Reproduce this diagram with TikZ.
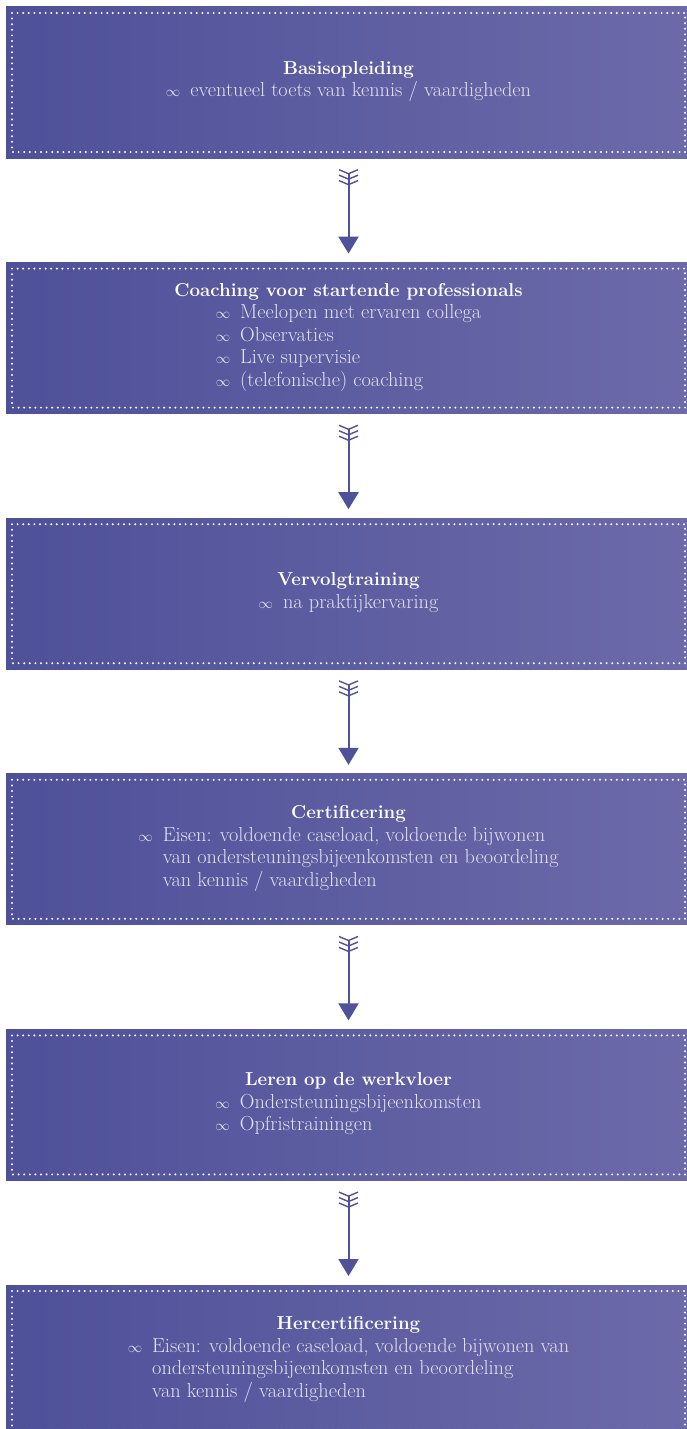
\documentclass[tikz,border=0pt]{standalone}
\usepackage{xcolor}
\usepackage{tikz}
\usetikzlibrary{positioning}
\usetikzlibrary{arrows.meta}

\definecolor{boxleft}{HTML}{4E5099}
\definecolor{boxright}{HTML}{6C6AA9}
\definecolor{flowblue}{HTML}{4F5199}
\definecolor{itemtext}{HTML}{E4E3F1}

\newcommand{\lemni}{{\fontsize{14}{14}\selectfont$\infty$}}
\newcommand{\stagetitle}[1]{{\fontsize{18.7}{22.5}\selectfont\bfseries\color{white}#1}}

\tikzset{
  vanes/.tip={Straight Barb[reversed,length=4pt,width=19pt,line width=1.4pt] Straight Barb[reversed,length=4pt,width=19pt,line width=1.4pt] Straight Barb[reversed,length=4pt,width=19pt,line width=1.4pt]},
  point/.tip={Triangle[length=17pt,width=20pt]},
  stage/.style={rectangle, minimum width=685pt, minimum height=151pt, inner sep=0pt, outer sep=0pt,
    left color=boxleft, right color=boxright, text=itemtext, align=center,
    font=\fontsize{20.3}{22.5}\selectfont,
    path picture={\draw[white, line width=2.2pt, line cap=round, dash pattern=on 0pt off 5.6pt]
      ([shift={(6pt,-6pt)}]path picture bounding box.north west) rectangle
      ([shift={(-6pt,6pt)}]path picture bounding box.south east);}},
  flow/.style={draw=flowblue, fill=flowblue, line width=2pt, shorten <=11pt, shorten >=9pt, vanes-point}
}

\begin{document}
\begin{tikzpicture}[x=1pt, y=-1pt, node distance=104.6pt]
\useasboundingbox (0,0) rectangle (687,1429);

\node (basis) [stage] at (348.5,82.5) {\stagetitle{Basisopleiding}\\
  \begin{tabular}[t]{@{}l@{\hspace{10pt}}l@{}}
  \lemni & eventueel toets van kennis / vaardigheden
  \end{tabular}};

\node (coaching) [stage, below=of basis] {\stagetitle{Coaching voor startende professionals}\\
  \begin{tabular}[t]{@{}l@{\hspace{10pt}}l@{}}
  \lemni & Meelopen met ervaren collega\\
  \lemni & Observaties\\
  \lemni & Live supervisie\\
  \lemni & (telefonische) coaching
  \end{tabular}};

\node (vervolg) [stage, below=of coaching] {\stagetitle{Vervolgtraining}\\
  \begin{tabular}[t]{@{}l@{\hspace{10pt}}l@{}}
  \lemni & na praktijkervaring
  \end{tabular}};

\node (cert) [stage, below=of vervolg] {\stagetitle{Certificering}\\
  \begin{tabular}[t]{@{}l@{\hspace{10pt}}l@{}}
  \lemni & Eisen: voldoende caseload, voldoende bijwonen\\
         & van ondersteuningsbijeenkomsten en beoordeling\\
         & van kennis / vaardigheden
  \end{tabular}};

\node (werkvloer) [stage, below=of cert] {\stagetitle{Leren op de werkvloer}\\
  \begin{tabular}[t]{@{}l@{\hspace{10pt}}l@{}}
  \lemni & Ondersteuningsbijeenkomsten\\
  \lemni & Opfristrainingen
  \end{tabular}};

\node (hercert) [stage, below=of werkvloer] {\stagetitle{Hercertificering}\\
  \begin{tabular}[t]{@{}l@{\hspace{10pt}}l@{}}
  \lemni & Eisen: voldoende caseload, voldoende bijwonen van\\
         & ondersteuningsbijeenkomsten en beoordeling\\
         & van kennis / vaardigheden
  \end{tabular}};

\draw [flow] (basis.south) -- (coaching.north);
\draw [flow] (coaching.south) -- (vervolg.north);
\draw [flow] (vervolg.south) -- (cert.north);
\draw [flow] (cert.south) -- (werkvloer.north);
\draw [flow] (werkvloer.south) -- (hercert.north);

\end{tikzpicture}
\end{document}
